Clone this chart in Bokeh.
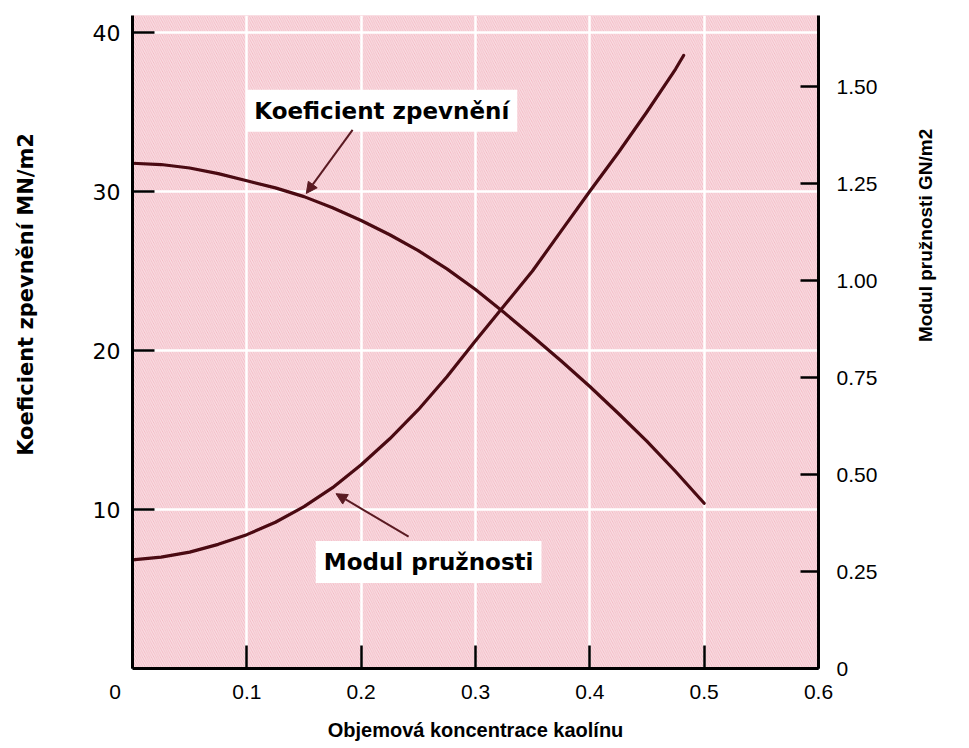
import math
from bokeh.plotting import figure
from bokeh.models import (Range1d, LinearAxis, FixedTicker, BoxAnnotation, Label,
                          Arrow, NormalHead)
from bokeh.embed import file_html
from bokeh.resources import INLINE

# ---- data ----
x_koef = [0, 0.025, 0.05, 0.075, 0.1, 0.125, 0.15, 0.175, 0.2, 0.225, 0.25,
          0.275, 0.3, 0.325, 0.35, 0.375, 0.4, 0.425, 0.45, 0.475, 0.5]
koef = [31.8, 31.72, 31.5, 31.15, 30.7, 30.25, 29.7, 29.0, 28.2, 27.3, 26.3,
        25.15, 23.85, 22.4, 20.9, 19.35, 17.75, 16.05, 14.3, 12.4, 10.4]     # MN/m2 (left)
x_mod = [0, 0.025, 0.05, 0.075, 0.1, 0.125, 0.15, 0.175, 0.2, 0.225, 0.25,
         0.275, 0.3, 0.325, 0.35, 0.375, 0.4, 0.425, 0.45, 0.475, 0.482]
modul = [0.28, 0.287, 0.30, 0.32, 0.345, 0.377, 0.417, 0.466, 0.525, 0.592, 0.667,
         0.752, 0.845, 0.935, 1.025, 1.128, 1.23, 1.33, 1.435, 1.545, 1.58]  # GN/m2 (right)

x_ticks = [0, 0.1, 0.2, 0.3, 0.4, 0.5, 0.6]
x_labels = ["0\u2007\u2007\u2007", "0.1", "0.2", "0.3", "0.4", "0.5", "0.6"]
left_ticks = [10, 20, 30, 40]
right_ticks = [0, 0.25, 0.5, 0.75, 1.0, 1.25, 1.5]
right_labels = ["0", "0.25", "0.50", "0.75", "1.00", "1.25", "1.50"]

x_title = "Objemová koncentrace kaolínu"
left_title = "Koeficient zpevnění MN/m2"
right_title = "Modul pružnosti GN/m2"
label_koef = "Koeficient zpevnění"
label_mod = "Modul pružnosti"
# annotation anchors (x, left-axis y)
koef_label_pos = (0.218, 35.1)
mod_label_pos = (0.259, 6.7)
koef_arrow = (0.1925, 33.9, 0.152, 29.9)
mod_arrow = (0.2415, 8.3, 0.178, 11.0)
right_title_span = (0.0, 1.02)   # span of the (invisible) axis carrying the right title

CURVE = "#4a0a12"
ARROW = "#5a1a22"
SANS = "Liberation Sans"
WIDE = "DejaVu Sans"
NBSP = "\u00a0"

p = figure(width=958, height=745, output_backend="svg", toolbar_location=None,
           x_range=Range1d(0, 0.6), y_range=Range1d(0, 41.1),
           min_border_left=132, min_border_right=140, min_border_top=15,
           min_border_bottom=77)
p.outline_line_color = None
p.background_fill_color = "#f2b6c1"
p.border_fill_color = "white"

hatch = BoxAnnotation(fill_alpha=0, line_color=None, hatch_pattern="\\",
                      hatch_color="white", hatch_alpha=0.55, hatch_scale=4.5,
                      hatch_weight=1.3, level="image")
p.add_layout(hatch)

p.extra_y_ranges = {"mod": Range1d(0, 1.683)}

# grid
p.xgrid.ticker = FixedTicker(ticks=x_ticks)
p.ygrid.ticker = FixedTicker(ticks=left_ticks)
for g in (p.xgrid[0], p.ygrid[0]):
    g.grid_line_color = "white"
    g.grid_line_width = 2.5

def style_axis(ax, tick_in, label_font, label_size):
    ax.axis_line_color = "black"
    ax.axis_line_width = 3
    ax.major_tick_line_color = "black"
    ax.major_tick_line_width = 2.5
    ax.major_tick_in = tick_in
    ax.major_tick_out = 0
    ax.minor_tick_line_color = None
    ax.major_label_text_font = label_font
    ax.major_label_text_font_size = label_size
    ax.major_label_text_color = "black"
    ax.axis_label_text_color = "black"
    ax.axis_label_text_font_style = "bold"

# bottom axis
xa = p.xaxis[0]
xa.ticker = FixedTicker(ticks=x_ticks)
xa.major_label_overrides = {t: s for t, s in zip(x_ticks, x_labels)}
style_axis(xa, 23, SANS, "21px")
xa.major_label_standoff = 11
xa.axis_label = x_title
xa.axis_label_text_font = SANS
xa.axis_label_text_font_size = "20px"
xa.axis_label_standoff = 13

# left axis
ya = p.yaxis[0]
ya.ticker = FixedTicker(ticks=left_ticks)
style_axis(ya, 22, WIDE, "22px")
ya.major_label_standoff = 12
ya.axis_label = NBSP * 13 + left_title
ya.axis_label_text_font = WIDE
ya.axis_label_text_font_size = "21px"
ya.axis_label_standoff = 52

# right axis (ticks and labels)
ra = LinearAxis(y_range_name="mod", ticker=FixedTicker(ticks=right_ticks),
                major_label_overrides={t: s for t, s in zip(right_ticks, right_labels)})
style_axis(ra, 18, SANS, "21px")
ra.major_label_standoff = 18
p.add_layout(ra, "right")

# second, invisible right axis that only carries the title (reads bottom-to-top)
rt = LinearAxis(y_range_name="mod", ticker=FixedTicker(ticks=[]), bounds=right_title_span)
rt.axis_line_color = None
rt.major_tick_line_color = None
rt.minor_tick_line_color = None
rt.major_label_text_font_size = "0px"
rt.axis_label = right_title
rt.axis_label_text_font = SANS
rt.axis_label_text_font_style = "bold"
rt.axis_label_text_font_size = "19px"
rt.axis_label_text_color = "black"
rt.axis_label_standoff = 45
rt.axis_label_orientation = math.pi / 2
p.add_layout(rt, "right")

# curves
p.line(x_koef, koef, line_color=CURVE, line_width=3.2, line_cap="round", line_join="round")
p.line(x_mod, modul, y_range_name="mod", line_color=CURVE, line_width=3.2,
       line_cap="round", line_join="round")

# text labels with white boxes
for (lx, ly), txt in ((koef_label_pos, label_koef), (mod_label_pos, label_mod)):
    p.add_layout(Label(x=lx, y=ly, text=txt, text_align="center", text_baseline="middle",
                       text_font=WIDE, text_font_style="bold", text_font_size="23px",
                       text_color="black", background_fill_color="white",
                       background_fill_alpha=1.0, padding=8))

# arrows
for xs, ys, xe, ye in (koef_arrow, mod_arrow):
    p.add_layout(Arrow(x_start=xs, y_start=ys, x_end=xe, y_end=ye,
                       line_color=ARROW, line_width=2,
                       end=NormalHead(size=11, fill_color=ARROW, line_color=ARROW)))

open("out.html", "w").write(file_html(p, INLINE))
